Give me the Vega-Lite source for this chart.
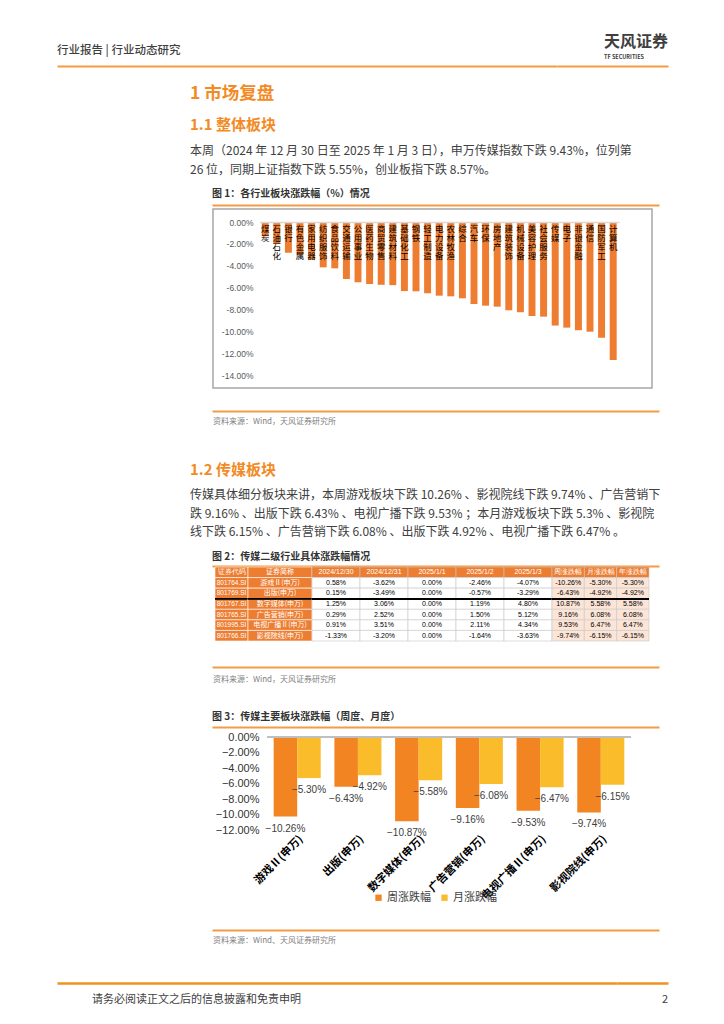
{
  "$schema": "https://vega.github.io/schema/vega-lite/v6.json",
  "padding": {"left": 57, "top": 0, "right": 0, "bottom": 0},
  "autosize": {"type": "pad"},
  "background": "#ffffff",
  "spacing": 0,
  "bounds": "flush",
  "config": {
    "view": {"stroke": null},
    "font": "Noto Sans CJK SC",
    "title": {"font": "Noto Sans CJK SC", "subtitleFont": "Noto Sans CJK SC", "anchor": "start", "frame": "group", "orient": "top"},
    "concat": {"spacing": 0}
  },
  "datasets": {
    "industry": [
      {"行业": "煤炭", "涨跌幅": -0.013},
      {"行业": "石油石化", "涨跌幅": -0.020},
      {"行业": "银行", "涨跌幅": -0.028},
      {"行业": "有色金属", "涨跌幅": -0.030},
      {"行业": "家用电器", "涨跌幅": -0.034},
      {"行业": "纺织服饰", "涨跌幅": -0.0413},
      {"行业": "食品饮料", "涨跌幅": -0.0422},
      {"行业": "交通运输", "涨跌幅": -0.0519},
      {"行业": "公用事业", "涨跌幅": -0.0549},
      {"行业": "医药生物", "涨跌幅": -0.0565},
      {"行业": "商贸零售", "涨跌幅": -0.0572},
      {"行业": "建筑材料", "涨跌幅": -0.0575},
      {"行业": "基础化工", "涨跌幅": -0.0629},
      {"行业": "钢铁", "涨跌幅": -0.0631},
      {"行业": "轻工制造", "涨跌幅": -0.0649},
      {"行业": "电力设备", "涨跌幅": -0.0671},
      {"行业": "农林牧渔", "涨跌幅": -0.0677},
      {"行业": "综合", "涨跌幅": -0.0695},
      {"行业": "汽车", "涨跌幅": -0.0747},
      {"行业": "环保", "涨跌幅": -0.0762},
      {"行业": "房地产", "涨跌幅": -0.0771},
      {"行业": "建筑装饰", "涨跌幅": -0.0804},
      {"行业": "机械设备", "涨跌幅": -0.0822},
      {"行业": "美容护理", "涨跌幅": -0.0856},
      {"行业": "社会服务", "涨跌幅": -0.0862},
      {"行业": "传媒", "涨跌幅": -0.0943},
      {"行业": "电子", "涨跌幅": -0.0962},
      {"行业": "非银金融", "涨跌幅": -0.0986},
      {"行业": "通信", "涨跌幅": -0.0999},
      {"行业": "国防军工", "涨跌幅": -0.1054},
      {"行业": "计算机", "涨跌幅": -0.1257}
    ],
    "media": [
      {"板块": "游戏Ⅱ(申万)", "类型": "周涨跌幅", "涨跌幅": -0.1026},
      {"板块": "游戏Ⅱ(申万)", "类型": "月涨跌幅", "涨跌幅": -0.0530},
      {"板块": "出版(申万)", "类型": "周涨跌幅", "涨跌幅": -0.0643},
      {"板块": "出版(申万)", "类型": "月涨跌幅", "涨跌幅": -0.0492},
      {"板块": "数字媒体(申万)", "类型": "周涨跌幅", "涨跌幅": -0.1087},
      {"板块": "数字媒体(申万)", "类型": "月涨跌幅", "涨跌幅": -0.0558},
      {"板块": "广告营销(申万)", "类型": "周涨跌幅", "涨跌幅": -0.0916},
      {"板块": "广告营销(申万)", "类型": "月涨跌幅", "涨跌幅": -0.0608},
      {"板块": "电视广播Ⅱ(申万)", "类型": "周涨跌幅", "涨跌幅": -0.0953},
      {"板块": "电视广播Ⅱ(申万)", "类型": "月涨跌幅", "涨跌幅": -0.0647},
      {"板块": "影视院线(申万)", "类型": "周涨跌幅", "涨跌幅": -0.0974},
      {"板块": "影视院线(申万)", "类型": "月涨跌幅", "涨跌幅": -0.0615}
    ],
    "table": [
      {"序号": 0, "证券代码": "证券代码", "证券简称": "证券简称", "2024/12/30": "2024/12/30", "2024/12/31": "2024/12/31", "2025/1/1": "2025/1/1", "2025/1/2": "2025/1/2", "2025/1/3": "2025/1/3", "周涨跌幅": "周涨跌幅", "月涨跌幅": "月涨跌幅", "年涨跌幅": "年涨跌幅"},
      {"序号": 1, "证券代码": "801764.SI", "证券简称": "游戏Ⅱ(申万)", "2024/12/30": "0.58%", "2024/12/31": "-3.62%", "2025/1/1": "0.00%", "2025/1/2": "-2.46%", "2025/1/3": "-4.07%", "周涨跌幅": "-10.26%", "月涨跌幅": "-5.30%", "年涨跌幅": "-5.30%"},
      {"序号": 2, "证券代码": "801769.SI", "证券简称": "出版(申万)", "2024/12/30": "0.15%", "2024/12/31": "-3.49%", "2025/1/1": "0.00%", "2025/1/2": "-0.57%", "2025/1/3": "-3.29%", "周涨跌幅": "-6.43%", "月涨跌幅": "-4.92%", "年涨跌幅": "-4.92%"},
      {"序号": 3, "证券代码": "801767.SI", "证券简称": "数字媒体(申万)", "2024/12/30": "1.25%", "2024/12/31": "3.06%", "2025/1/1": "0.00%", "2025/1/2": "1.19%", "2025/1/3": "4.80%", "周涨跌幅": "10.87%", "月涨跌幅": "5.58%", "年涨跌幅": "5.58%"},
      {"序号": 4, "证券代码": "801765.SI", "证券简称": "广告营销(申万)", "2024/12/30": "0.29%", "2024/12/31": "2.52%", "2025/1/1": "0.00%", "2025/1/2": "1.50%", "2025/1/3": "5.12%", "周涨跌幅": "9.16%", "月涨跌幅": "6.08%", "年涨跌幅": "6.08%"},
      {"序号": 5, "证券代码": "801995.SI", "证券简称": "电视广播Ⅱ(申万)", "2024/12/30": "0.91%", "2024/12/31": "3.51%", "2025/1/1": "0.00%", "2025/1/2": "2.11%", "2025/1/3": "4.34%", "周涨跌幅": "9.53%", "月涨跌幅": "6.47%", "年涨跌幅": "6.47%"},
      {"序号": 6, "证券代码": "801766.SI", "证券简称": "影视院线(申万)", "2024/12/30": "-1.33%", "2024/12/31": "-3.20%", "2025/1/1": "0.00%", "2025/1/2": "-1.64%", "2025/1/3": "-3.63%", "周涨跌幅": "-9.74%", "月涨跌幅": "-6.15%", "年涨跌幅": "-6.15%"}
    ]
  },
  "vconcat": [
    {
      "hconcat": [
        {
          "width": 500, "height": 66,
          "data": {"values": []}, "mark": "point",
          "title": {"text": "行业报告 | 行业动态研究", "fontSize": 11.5, "fontWeight": 500, "color": "#3f3f3f", "offset": -56, "dx": 0},
          "encoding": {"x": {"datum": 0, "type": "quantitative", "scale": {"domain": [0, 1]}, "axis": {"orient": "bottom", "offset": 0, "domainColor": "#F39C45", "domainWidth": 2, "labels": false, "ticks": false, "grid": false, "title": null}}}
        },
        {
          "width": 111, "height": 66,
          "data": {"values": []}, "mark": "point",
          "title": {"text": "天风证券", "fontSize": 16, "fontWeight": "bold", "color": "#3f3f3f", "offset": -60, "dx": 47, "subtitle": "TF SECURITIES", "subtitleFontSize": 5.5, "subtitleFontWeight": "bold", "subtitleColor": "#3f3f3f", "subtitlePadding": 4.5},
          "encoding": {"x": {"datum": 0, "type": "quantitative", "scale": {"domain": [0, 1]}, "axis": {"orient": "bottom", "offset": 0, "domainColor": "#F39C45", "domainWidth": 2, "labels": false, "ticks": false, "grid": false, "title": null}}}
        }
      ],
      "spacing": 0, "bounds": "flush"
    },
    {"width": 1, "height": 66, "data": {"values": []}, "mark": "point"},
    {
      "width": 611, "height": 42,
      "data": {"values": []}, "mark": "point",
      "title": {"text": "1 市场复盘", "fontSize": 17.5, "fontWeight": "bold", "color": "#F28B26", "offset": -36, "dx": 133}
    },
    {
      "width": 611, "height": 75,
      "data": {"values": []}, "mark": "point",
      "title": {
        "text": "1.1 整体板块", "fontSize": 15, "fontWeight": "bold", "color": "#F28B26", "offset": -68, "dx": 133,
        "subtitle": ["本周（2024 年 12 月 30 日至 2025 年 1 月 3 日），申万传媒指数下跌 9.43%，位列第", "26 位，同期上证指数下跌 5.55%，创业板指下跌 8.57%。"],
        "subtitleFontSize": 12, "subtitleColor": "#404040", "subtitleLineHeight": 19, "subtitlePadding": 13.5
      }
    },
    {
      "hconcat": [
        {"width": 155, "height": 1, "data": {"values": []}, "mark": "point"},
        {
          "width": 447, "height": 26,
          "data": {"values": []}, "mark": "point",
          "title": {"text": "图 1：各行业板块涨跌幅（%）情况", "fontSize": 10, "fontWeight": "bold", "color": "#333333", "offset": -16},
          "encoding": {"x": {"datum": 0, "type": "quantitative", "scale": {"domain": [0, 1]}, "axis": {"orient": "bottom", "offset": -4, "domainColor": "#F39C45", "domainWidth": 2, "labels": false, "ticks": false, "grid": false, "title": null}}}
        }
      ],
      "spacing": 0, "bounds": "flush"
    },
    {"width": 1, "height": 26, "data": {"values": []}, "mark": "point"},
    {
      "hconcat": [
        {"width": 156, "height": 1, "data": {"values": []}, "mark": "point"},
        {
          "width": 439, "height": 179,
          "view": {"stroke": "#a6a6a6", "strokeWidth": 1.5},
          "data": {"name": "industry"},
          "mark": {"type": "bar", "color": "#EE7D31"},
          "encoding": {
            "x": {
              "field": "行业", "type": "nominal", "sort": null,
              "scale": {"range": [46.4, 406], "paddingInner": 0.4, "paddingOuter": 0.2},
              "axis": {"orient": "top", "offset": -13, "title": null, "domainColor": "#d9d9d9", "domainWidth": 1.5, "ticks": false, "tickSize": 0, "labelAngle": 0, "labelBaseline": "top", "labelAlign": "center", "labelPadding": -2, "labelExpr": "split(datum.label, '')", "labelFontSize": 8.5, "labelLineHeight": 9.3, "labelColor": "#000000", "labelFont": "Noto Sans CJK SC", "labelOverlap": false, "labelFlush": false, "labelBound": false, "zindex": 1}
            },
            "y": {
              "field": "涨跌幅", "type": "quantitative",
              "scale": {"domain": [-0.15118, 0.01184], "nice": false},
              "axis": {"title": null, "values": [-0.14, -0.12, -0.10, -0.08, -0.06, -0.04, -0.02, 0], "offset": -40, "domain": false, "ticks": false, "tickSize": 0, "grid": false, "labelPadding": 0, "labelFontSize": 8.5, "labelColor": "#595959", "labelFont": "Liberation Sans", "labelOverlap": false, "labelExpr": "replace(format(datum.value, '.2%'), '−', '-')"}
            }
          }
        }
      ],
      "spacing": 0, "bounds": "flush"
    },
    {"width": 1, "height": 179, "data": {"values": []}, "mark": "point"},
    {
      "hconcat": [
        {"width": 155, "height": 1, "data": {"values": []}, "mark": "point"},
        {
          "width": 447, "height": 42,
          "data": {"values": []}, "mark": "point",
          "title": {"text": "资料来源：Wind，天风证券研究所", "fontSize": 8, "fontWeight": "normal", "color": "#7f7f7f", "offset": -38, "dx": 1},
          "encoding": {"x": {"datum": 0, "type": "quantitative", "scale": {"domain": [0, 1]}, "axis": {"orient": "top", "offset": -23, "domainColor": "#F39C45", "domainWidth": 2, "labels": false, "ticks": false, "grid": false, "title": null}}}
        }
      ],
      "spacing": 0, "bounds": "flush"
    },
    {"width": 1, "height": 42, "data": {"values": []}, "mark": "point"},
    {
      "width": 611, "height": 118,
      "data": {"values": []}, "mark": "point",
      "title": {
        "text": "1.2 传媒板块", "fontSize": 15, "fontWeight": "bold", "color": "#F28B26", "offset": -108, "dx": 133,
        "subtitle": ["传媒具体细分板块来讲，本周游戏板块下跌 10.26% 、影视院线下跌 9.74% 、广告营销下", "跌 9.16% 、出版下跌 6.43% 、电视广播下跌 9.53% ；本月游戏板块下跌 5.3% 、影视院", "线下跌 6.15% 、广告营销下跌 6.08% 、出版下跌 4.92% 、电视广播下跌 6.47% 。"],
        "subtitleFontSize": 12, "subtitleColor": "#404040", "subtitleLineHeight": 18.5, "subtitlePadding": 12.5
      }
    },
    {
      "hconcat": [
        {"width": 155, "height": 1, "data": {"values": []}, "mark": "point"},
        {
          "width": 447, "height": 19,
          "data": {"values": []}, "mark": "point",
          "title": {"text": "图 2：传媒二级行业具体涨跌幅情况", "fontSize": 10, "fontWeight": "bold", "color": "#333333", "offset": -14},
          "encoding": {"x": {"datum": 0, "type": "quantitative", "scale": {"domain": [0, 1]}, "axis": {"orient": "bottom", "offset": -1, "domainColor": "#F39C45", "domainWidth": 2, "labels": false, "ticks": false, "grid": false, "title": null}}}
        }
      ],
      "spacing": 0, "bounds": "flush"
    },
    {"width": 1, "height": 19, "data": {"values": []}, "mark": "point"},
    {
      "hconcat": [
        {"width": 158, "height": 1, "data": {"values": []}, "mark": "point"},
        {
          "width": 33, "height": 74,
          "data": {"name": "table"},
          "transform": [{"fold": ["证券代码"], "as": ["列", "值"]}],
          "layer": [
            {
              "mark": {"type": "rect", "fill": "#ED7D31", "stroke": "#ffffff", "strokeWidth": 0.6},
              "encoding": {
                "x": {"field": "列", "type": "nominal", "sort": ["证券代码"], "scale": {"paddingInner": 0, "paddingOuter": 0}, "axis": null},
                "y": {"field": "序号", "type": "ordinal", "scale": {"paddingInner": 0, "paddingOuter": 0}, "axis": null}
              }
            },
            {
              "mark": {"type": "text", "fontSize": 6.5, "color": "#ffffff", "font": "Liberation Sans"},
              "encoding": {
                "x": {"field": "列", "type": "nominal", "sort": ["证券代码"]},
                "y": {"field": "序号", "type": "ordinal"},
                "text": {"field": "值"}
              }
            },
            {"mark": {"type": "rule", "color": "#000000", "strokeWidth": 1}, "encoding": {"y": {"datum": 3, "type": "ordinal", "bandPosition": 0}}}
          ]
        },
        {
          "width": 64, "height": 74,
          "data": {"name": "table"},
          "transform": [{"fold": ["证券简称"], "as": ["列", "值"]}],
          "layer": [
            {
              "mark": {"type": "rect", "fill": "#ED7D31", "stroke": "#ffffff", "strokeWidth": 0.6},
              "encoding": {
                "x": {"field": "列", "type": "nominal", "sort": ["证券简称"], "scale": {"paddingInner": 0, "paddingOuter": 0}, "axis": null},
                "y": {"field": "序号", "type": "ordinal", "scale": {"paddingInner": 0, "paddingOuter": 0}, "axis": null}
              }
            },
            {
              "mark": {"type": "text", "fontSize": 7, "color": "#ffffff", "font": "Noto Sans CJK SC"},
              "encoding": {
                "x": {"field": "列", "type": "nominal", "sort": ["证券简称"]},
                "y": {"field": "序号", "type": "ordinal"},
                "text": {"field": "值"}
              }
            },
            {"mark": {"type": "rule", "color": "#000000", "strokeWidth": 1}, "encoding": {"y": {"datum": 3, "type": "ordinal", "bandPosition": 0}}}
          ]
        },
        {
          "width": 240, "height": 74,
          "data": {"name": "table"},
          "transform": [{"fold": ["2024/12/30", "2024/12/31", "2025/1/1", "2025/1/2", "2025/1/3"], "as": ["列", "值"]}],
          "layer": [
            {
              "mark": {"type": "rect", "stroke": "#c8c8c8", "strokeWidth": 0.6},
              "encoding": {
                "x": {"field": "列", "type": "nominal", "sort": ["2024/12/30", "2024/12/31", "2025/1/1", "2025/1/2", "2025/1/3"], "scale": {"paddingInner": 0, "paddingOuter": 0}, "axis": null},
                "y": {"field": "序号", "type": "ordinal", "scale": {"paddingInner": 0, "paddingOuter": 0}, "axis": null},
                "fill": {"condition": {"test": "datum['序号'] === 0", "value": "#ED7D31"}, "value": "#ffffff"}
              }
            },
            {
              "mark": {"type": "text", "fontSize": 7, "font": "Liberation Sans"},
              "encoding": {
                "x": {"field": "列", "type": "nominal", "sort": ["2024/12/30", "2024/12/31", "2025/1/1", "2025/1/2", "2025/1/3"]},
                "y": {"field": "序号", "type": "ordinal"},
                "text": {"field": "值"},
                "color": {"condition": {"test": "datum['序号'] === 0", "value": "#ffffff"}, "value": "#000000"}
              }
            },
            {"mark": {"type": "rule", "color": "#000000", "strokeWidth": 1}, "encoding": {"y": {"datum": 3, "type": "ordinal", "bandPosition": 0}}}
          ]
        },
        {
          "width": 97, "height": 74,
          "data": {"name": "table"},
          "transform": [{"fold": ["周涨跌幅", "月涨跌幅", "年涨跌幅"], "as": ["列", "值"]}],
          "layer": [
            {
              "mark": {"type": "rect", "stroke": "#c8c8c8", "strokeWidth": 0.6},
              "encoding": {
                "x": {"field": "列", "type": "nominal", "sort": ["周涨跌幅", "月涨跌幅", "年涨跌幅"], "scale": {"paddingInner": 0, "paddingOuter": 0}, "axis": null},
                "y": {"field": "序号", "type": "ordinal", "scale": {"paddingInner": 0, "paddingOuter": 0}, "axis": null},
                "fill": {"condition": {"test": "datum['序号'] === 0", "value": "#ED7D31"}, "value": "#FCE4D6"}
              }
            },
            {
              "mark": {"type": "text", "fontSize": 7, "font": "Liberation Sans"},
              "encoding": {
                "x": {"field": "列", "type": "nominal", "sort": ["周涨跌幅", "月涨跌幅", "年涨跌幅"]},
                "y": {"field": "序号", "type": "ordinal"},
                "text": {"field": "值"},
                "color": {"condition": {"test": "datum['序号'] === 0", "value": "#ffffff"}, "value": "#000000"}
              }
            },
            {"mark": {"type": "rule", "color": "#000000", "strokeWidth": 1}, "encoding": {"y": {"datum": 3, "type": "ordinal", "bandPosition": 0}}}
          ]
        }
      ],
      "spacing": 0, "bounds": "flush"
    },
    {"width": 1, "height": 74, "data": {"values": []}, "mark": "point"},
    {
      "hconcat": [
        {"width": 155, "height": 1, "data": {"values": []}, "mark": "point"},
        {
          "width": 447, "height": 49,
          "data": {"values": []}, "mark": "point",
          "title": {"text": "资料来源：Wind，天风证券研究所", "fontSize": 8, "fontWeight": "normal", "color": "#7f7f7f", "offset": -43, "dx": 1},
          "encoding": {"x": {"datum": 0, "type": "quantitative", "scale": {"domain": [0, 1]}, "axis": {"orient": "top", "offset": -26, "domainColor": "#F39C45", "domainWidth": 2, "labels": false, "ticks": false, "grid": false, "title": null}}}
        }
      ],
      "spacing": 0, "bounds": "flush"
    },
    {"width": 1, "height": 49, "data": {"values": []}, "mark": "point"},
    {
      "hconcat": [
        {"width": 155, "height": 1, "data": {"values": []}, "mark": "point"},
        {
          "width": 447, "height": 47,
          "data": {"values": []}, "mark": "point",
          "title": {"text": "图 3：传媒主要板块涨跌幅（周度、月度）", "fontSize": 10, "fontWeight": "bold", "color": "#333333", "offset": -32},
          "encoding": {"x": {"datum": 0, "type": "quantitative", "scale": {"domain": [0, 1]}, "axis": {"orient": "bottom", "offset": -10, "domainColor": "#F39C45", "domainWidth": 2, "labels": false, "ticks": false, "grid": false, "title": null}}}
        }
      ],
      "spacing": 0, "bounds": "flush"
    },
    {"width": 1, "height": 47, "data": {"values": []}, "mark": "point"},
    {
      "hconcat": [
        {"width": 210, "height": 1, "data": {"values": []}, "mark": "point"},
        {
          "width": 364, "height": 93,
          "data": {"name": "media"},
          "layer": [
            {
              "mark": {"type": "bar"},
              "encoding": {
                "x": {"field": "板块", "type": "nominal", "sort": null, "scale": {"paddingInner": 0.225, "paddingOuter": 0.11}, "axis": {"title": null, "domain": false, "ticks": false, "labelAngle": -45, "labelAlign": "right", "labelBaseline": "top", "labelPadding": 3, "labelFontSize": 11, "labelFontWeight": "bold", "labelColor": "#000000", "labelFont": "Noto Sans CJK SC", "labelOverlap": false}},
                "xOffset": {"field": "类型", "type": "nominal", "sort": ["周涨跌幅", "月涨跌幅"], "scale": {"paddingInner": 0, "paddingOuter": 0}},
                "y": {"field": "涨跌幅", "type": "quantitative", "scale": {"domain": [-0.12, 0], "nice": false}, "axis": {"title": null, "values": [-0.12, -0.10, -0.08, -0.06, -0.04, -0.02, 0], "format": ".2%", "domain": false, "ticks": false, "grid": false, "labelPadding": 8, "labelFontSize": 11, "labelColor": "#333333", "labelFont": "Liberation Sans", "labelOverlap": false, "labelFlush": false, "labelBound": false}},
                "color": {"field": "类型", "type": "nominal", "sort": ["周涨跌幅", "月涨跌幅"], "scale": {"domain": ["周涨跌幅", "月涨跌幅"], "range": ["#F28422", "#FBBC2C"]}, "legend": {"orient": "none", "legendX": 316, "legendY": 892, "direction": "horizontal", "title": null, "symbolType": "square", "symbolSize": 40, "symbolStrokeWidth": 0, "labelFontSize": 11, "labelColor": "#404040", "labelFont": "Noto Sans CJK SC", "labelOffset": 3, "columnPadding": 8}}
              }
            },
            {
              "mark": {"type": "rule", "color": "#bfbfbf", "strokeWidth": 1.5},
              "encoding": {"y": {"datum": 0, "type": "quantitative", "axis": {"title": null, "values": [-0.12, -0.10, -0.08, -0.06, -0.04, -0.02, 0], "format": ".2%", "domain": false, "ticks": false, "grid": false, "labelPadding": 8, "labelFontSize": 11, "labelColor": "#333333", "labelFont": "Liberation Sans", "labelOverlap": false, "labelFlush": false, "labelBound": false}}}
            },
            {
              "mark": {"type": "text", "dy": 12, "fontSize": 10, "color": "#404040", "font": "Liberation Sans"},
              "encoding": {
                "x": {"field": "板块", "type": "nominal", "sort": null},
                "xOffset": {"field": "类型", "type": "nominal", "sort": ["周涨跌幅", "月涨跌幅"]},
                "y": {"field": "涨跌幅", "type": "quantitative", "axis": {"title": null, "values": [-0.12, -0.10, -0.08, -0.06, -0.04, -0.02, 0], "format": ".2%", "domain": false, "ticks": false, "grid": false, "labelPadding": 8, "labelFontSize": 11, "labelColor": "#333333", "labelFont": "Liberation Sans", "labelOverlap": false, "labelFlush": false, "labelBound": false}},
                "text": {"field": "涨跌幅", "format": ".2%"}
              }
            }
          ]
        }
      ],
      "spacing": 0, "bounds": "flush"
    },
    {"width": 1, "height": 93, "data": {"values": []}, "mark": "point"},
    {
      "hconcat": [
        {"width": 155, "height": 1, "data": {"values": []}, "mark": "point"},
        {
          "width": 447, "height": 130,
          "data": {"values": []}, "mark": "point",
          "title": {"text": "资料来源：Wind、天风证券研究所", "fontSize": 8, "fontWeight": "normal", "color": "#7f7f7f", "offset": -115, "dx": 1},
          "encoding": {"x": {"datum": 0, "type": "quantitative", "scale": {"domain": [0, 1]}, "axis": {"orient": "top", "offset": -100, "domainColor": "#F39C45", "domainWidth": 2, "labels": false, "ticks": false, "grid": false, "title": null}}}
        }
      ],
      "spacing": 0, "bounds": "flush"
    },
    {"width": 1, "height": 130, "data": {"values": []}, "mark": "point"},
    {
      "hconcat": [
        {
          "width": 560, "height": 50,
          "data": {"values": []}, "mark": "point",
          "title": {"text": "请务必阅读正文之后的信息披露和免责申明", "fontSize": 11, "fontWeight": "normal", "color": "#404040", "offset": -44.5, "dx": 35},
          "encoding": {"x": {"datum": 0, "type": "quantitative", "scale": {"domain": [0, 1]}, "axis": {"orient": "top", "offset": -23, "domainColor": "#F0901F", "domainWidth": 2.5, "labels": false, "ticks": false, "grid": false, "title": null}}}
        },
        {
          "width": 51, "height": 50,
          "data": {"values": []}, "mark": "point",
          "title": {"text": "2", "anchor": "end", "fontSize": 11, "fontWeight": "normal", "color": "#404040", "offset": -44.5},
          "encoding": {"x": {"datum": 0, "type": "quantitative", "scale": {"domain": [0, 1]}, "axis": {"orient": "top", "offset": -23, "domainColor": "#F0901F", "domainWidth": 2.5, "labels": false, "ticks": false, "grid": false, "title": null}}}
        }
      ],
      "spacing": 0, "bounds": "flush"
    },
    {"width": 1, "height": 50, "data": {"values": []}, "mark": "point"}
  ]
}
